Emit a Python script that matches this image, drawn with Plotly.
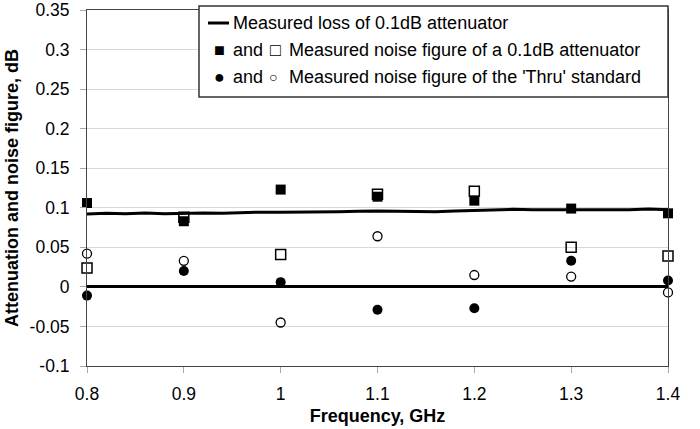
import plotly.graph_objects as go

# ---- data ----
freq_pts = [0.8, 0.9, 1.0, 1.1, 1.2, 1.3, 1.4]
nf_atten_a = [0.106, 0.083, 0.123, 0.114, 0.109, 0.099, 0.093]   # filled squares
nf_atten_b = [0.024, 0.088, 0.041, 0.117, 0.121, 0.050, 0.039]   # open squares
nf_thru_a = [-0.011, 0.020, 0.006, -0.029, -0.027, 0.033, 0.008]  # filled circles
nf_thru_b = [0.042, 0.033, -0.045, 0.064, 0.015, 0.013, -0.007]   # open circles

freq_line = [0.80, 0.82, 0.84, 0.86, 0.88, 0.90, 0.92, 0.94, 0.96, 0.98,
             1.00, 1.02, 1.04, 1.06, 1.08, 1.10, 1.12, 1.14, 1.16, 1.18,
             1.20, 1.22, 1.24, 1.26, 1.28, 1.30, 1.32, 1.34, 1.36, 1.38, 1.40]
loss_line = [0.0920, 0.0930, 0.0925, 0.0935, 0.0925, 0.0930, 0.0935, 0.0930, 0.0940, 0.0945,
             0.0945, 0.0945, 0.0950, 0.0950, 0.0955, 0.0960, 0.0955, 0.0950, 0.0950, 0.0960,
             0.0965, 0.0970, 0.0980, 0.0975, 0.0975, 0.0980, 0.0975, 0.0980, 0.0975, 0.0985, 0.0975]

y_tickvals = [0.35, 0.3, 0.25, 0.2, 0.15, 0.1, 0.05, 0, -0.05, -0.1]
y_ticktext = ["0.35", "0.3", "0.25", "0.2", "0.15", "0.1", "0.05", "0", "-0.05", "-0.1"]
x_tickvals = [0.8, 0.9, 1.0, 1.1, 1.2, 1.3, 1.4]
x_ticktext = ["0.8", "0.9", "1", "1.1", "1.2", "1.3", "1.4"]

legend_texts = ["Measured loss of 0.1dB attenuator",
                "Measured noise figure of a 0.1dB attenuator",
                "Measured noise figure of the 'Thru' standard"]

FONT = "Arial, Liberation Sans, sans-serif"

fig = go.Figure()
fig.add_trace(go.Scatter(x=freq_line, y=loss_line, mode="lines", cliponaxis=False,
                         line=dict(color="black", width=3), showlegend=False))
fig.add_trace(go.Scatter(x=freq_pts, y=nf_atten_a, mode="markers", cliponaxis=False,
                         marker=dict(symbol="square", size=10, color="black"), showlegend=False))
fig.add_trace(go.Scatter(x=freq_pts, y=nf_atten_b, mode="markers", cliponaxis=False,
                         marker=dict(symbol="square-open", size=10, color="black",
                                     line=dict(width=1.5, color="black")), showlegend=False))
fig.add_trace(go.Scatter(x=freq_pts, y=nf_thru_a, mode="markers", cliponaxis=False,
                         marker=dict(symbol="circle", size=10, color="black"), showlegend=False))
fig.add_trace(go.Scatter(x=freq_pts, y=nf_thru_b, mode="markers", cliponaxis=False,
                         marker=dict(symbol="circle-open", size=9, color="black",
                                     line=dict(width=1.3, color="black")), showlegend=False))

W, H = 700, 429
L, R, T, B = 87, 32, 10, 63
pw, ph = W - L - R, H - T - B


def px(x):
    return (x - L) / pw


def py(y):
    return (H - B - y) / ph


shapes = [
    dict(type="rect", xref="paper", yref="paper", x0=px(199), x1=px(668), y0=py(97), y1=py(6),
         line=dict(color="#333333", width=1.5), fillcolor="white", layer="above"),
    dict(type="line", xref="paper", yref="paper", x0=px(208), x1=px(229), y0=py(23), y1=py(23),
         line=dict(color="black", width=3), layer="above"),
]

ann = []
fs = 18
rows_y = [23, 50, 77]
ann.append(dict(x=px(231), y=py(rows_y[0]), text=legend_texts[0]))
ann.append(dict(x=px(219), y=py(rows_y[1]), text="■", xanchor="center"))
ann.append(dict(x=px(231), y=py(rows_y[1]), text="and"))
ann.append(dict(x=px(275), y=py(rows_y[1]), text="□", xanchor="center"))
ann.append(dict(x=px(287), y=py(rows_y[1]), text=legend_texts[1]))
ann.append(dict(x=px(219), y=py(rows_y[2]), text="●", xanchor="center"))
ann.append(dict(x=px(231), y=py(rows_y[2]), text="and"))
ann.append(dict(x=px(273), y=py(rows_y[2]), text="○", xanchor="center", size=14))
ann.append(dict(x=px(287), y=py(rows_y[2]), text=legend_texts[2]))
annotations = []
for a in ann:
    size = a.pop("size", fs)
    d = dict(xref="paper", yref="paper", showarrow=False, xanchor="left", yanchor="middle",
             font=dict(family=FONT, size=size, color="black"))
    d.update(a)
    annotations.append(d)

fig.update_layout(
    width=W, height=H,
    margin=dict(l=L, r=R, t=T, b=B, pad=0, autoexpand=False),
    plot_bgcolor="white", paper_bgcolor="white",
    font=dict(family=FONT, size=17, color="black"),
    shapes=shapes, annotations=annotations,
    showlegend=False,
)
fig.update_xaxes(range=[0.8, 1.4], tickvals=x_tickvals, ticktext=x_ticktext,
                 showgrid=False, zeroline=False, automargin=False,
                 showline=True, linecolor="#444444", linewidth=1, mirror=True,
                 ticks="outside", ticklen=6, tickcolor="#aaaaaa",
                 tickfont=dict(size=17.5), ticklabelstandoff=6,
                 title=dict(text="<b>Frequency, GHz</b>", font=dict(size=18), standoff=6))
fig.update_yaxes(range=[-0.1, 0.35], tickvals=y_tickvals, ticktext=y_ticktext,
                 showgrid=True, gridcolor="#d9d9d9", gridwidth=1, automargin=False,
                 zeroline=True, zerolinecolor="black", zerolinewidth=3,
                 showline=True, linecolor="#444444", linewidth=1, mirror=True,
                 ticks="outside", ticklen=6, tickcolor="#aaaaaa",
                 tickfont=dict(size=17.5), ticklabelstandoff=7,
                 title=dict(text="<b>Attenuation and noise figure, dB</b>", font=dict(size=18), standoff=6))

fig.write_html("out.html")
